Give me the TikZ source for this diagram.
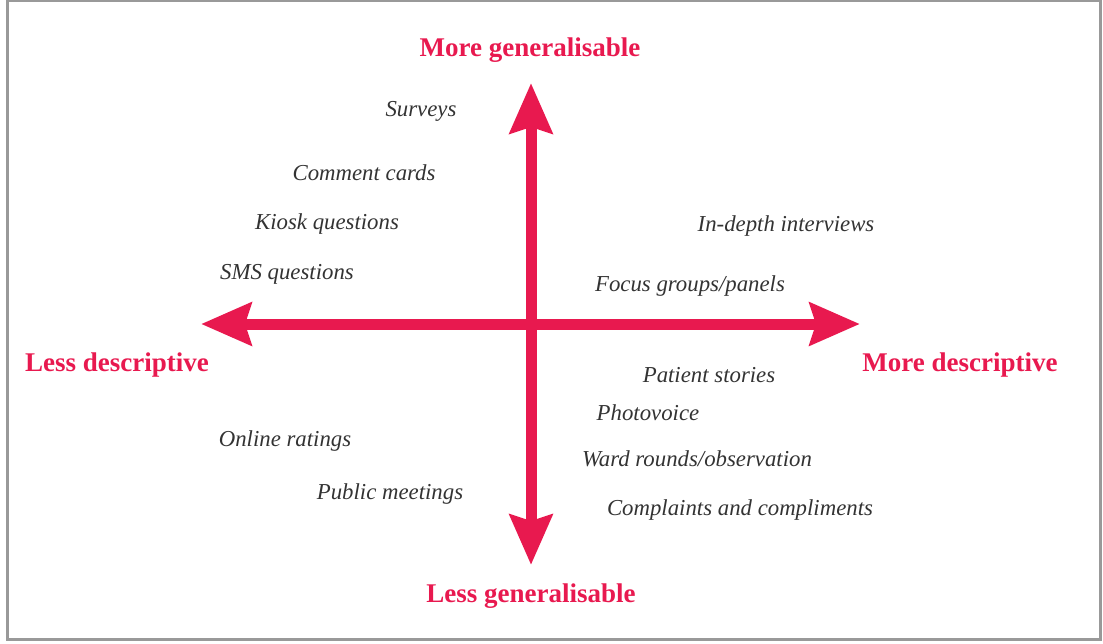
\documentclass[tikz,border=0pt]{standalone}
\usepackage{fontspec}
\setmainfont{Liberation Serif}
\usetikzlibrary{arrows.meta}
\definecolor{axisred}{HTML}{E8194F}
\definecolor{itemgray}{HTML}{333333}

\begin{document}
\begin{tikzpicture}[x=0.5pt,y=-0.5pt,
    axis/.style={axisred,line width=5.5pt,{Stealth[length=25pt,width=21pt,inset=3pt]}-{Stealth[length=25pt,width=21pt,inset=3pt]}},
    pole/.style={text=axisred,font=\fontsize{13.5}{15}\selectfont\bfseries},
    method/.style={text=itemgray,font=\fontsize{11.4}{13}\selectfont\itshape}]
    \useasboundingbox (0,0) rectangle (1103,643);
    % Frame
    \draw[gray!80,line width=1.3pt] (7.5,1) rectangle (1100.5,639.5);

    % Axis ends
    \coordinate (top) at (531,83);
    \coordinate (bottom) at (531,565);
    \coordinate (left) at (201,324);
    \coordinate (right) at (860,324);

    % Axes
    \draw[axis] (bottom) -- (top);
    \draw[axis] (left) -- (right);

    % Axis labels
    \node[pole] (moregen) at (530,50) {More generalisable};
    \node[pole] (lessgen) at (531,596) {Less generalisable};
    \node[pole] (lessdesc) at (117,365) {Less descriptive};
    \node[pole] (moredesc) at (960,365) {More descriptive};

    % Upper left
    \node[method] (surveys) at (421,111) {Surveys};
    \node[method] (cards) at (364,173) {Comment cards};
    \node[method] (kiosk) at (327,224) {Kiosk questions};
    \node[method] (sms) at (287,274) {SMS questions};

    % Upper right
    \node[method] (interviews) at (786,226) {In-depth interviews};
    \node[method] (focus) at (690,286) {Focus groups/panels};

    % Lower left
    \node[method] (online) at (285,441) {Online ratings};
    \node[method] (public) at (390,494) {Public meetings};

    % Lower right
    \node[method] (stories) at (709,375) {Patient stories};
    \node[method] (photo) at (648,413) {Photovoice};
    \node[method] (ward) at (697,459) {Ward rounds/observation};
    \node[method] (complaints) at (740,510) {Complaints and compliments};
\end{tikzpicture}
\end{document}
